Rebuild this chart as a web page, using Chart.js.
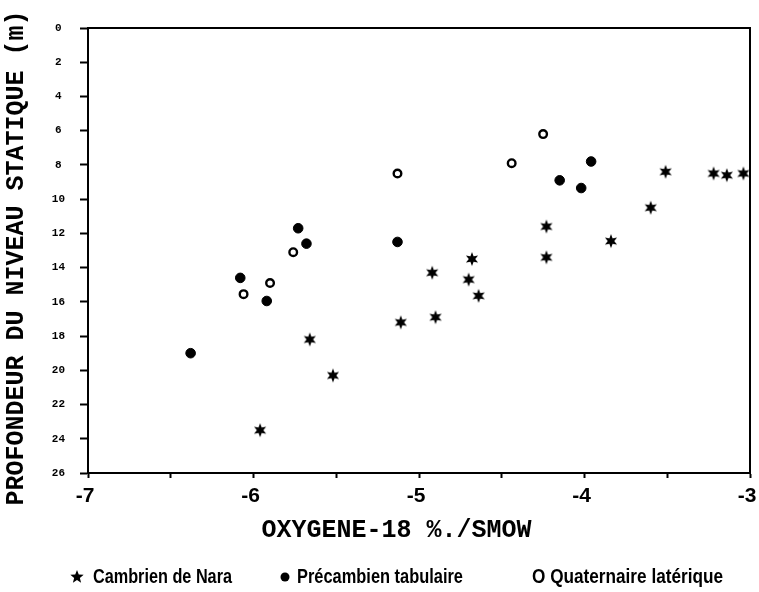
<!DOCTYPE html>
<html><head><meta charset="utf-8">
<script src="https://cdn.jsdelivr.net/npm/chart.js@4/dist/chart.umd.min.js"></script>
<style>html,body{margin:0;padding:0;background:#fff;}#wrap{width:759px;height:592px;position:relative;}</style>
</head><body><div id="wrap"><canvas id="c" width="759" height="592"></canvas></div>
<script>
// ---- data ----
const cambrienX = [-5.96,-5.66,-5.52,-5.11,-4.90,-4.92,-4.70,-4.68,-4.64,-4.23,-4.23,-3.84,-3.60,-3.51,-3.22,-3.14,-3.04];
const cambrienY = [23.5,18.2,20.3,17.2,16.9,14.3,14.7,13.5,15.65,11.6,13.4,12.45,10.5,8.4,8.5,8.6,8.5];
const precambX = [-6.38,-6.08,-5.92,-5.73,-5.68,-5.13,-4.15,-4.02,-3.96];
const precambY = [19.0,14.6,15.95,11.7,12.6,12.5,8.9,9.35,7.8];
const quatX = [-6.06,-5.90,-5.76,-5.13,-4.44,-4.25];
const quatY = [15.55,14.9,13.1,8.5,7.9,6.2];
const seriesNames = ['Cambrien de Nara','Précambien tabulaire','Quaternaire latérique'];
const xTicks = [-7,-6.5,-6,-5.5,-5,-4.5,-4,-3.5,-3];
const xTickLabels = ['-7','','-6','','-5','','-4','','-3'];
const yTicks = [0,2,4,6,8,10,12,14,16,18,20,22,24,26];
const yTickLabels = ['0','2','4','6','8','10','12','14','16','18','20','22','24','26'];
const xTitle = 'OXYGENE-18 %./SMOW';
const yTitle = 'PROFONDEUR DU NIVEAU STATIQUE (m)';

function pts(xs, ys){ return xs.map((x,i)=>({x:x, y:ys[i]})); }

function starCanvas(n, R, r){
  const s = Math.ceil(R*2)+2;
  const c = document.createElement('canvas'); c.width = s; c.height = s;
  const g = c.getContext('2d'); g.fillStyle = '#000'; g.beginPath();
  for (let i=0;i<2*n;i++){ const a = -Math.PI/2 + i*Math.PI/n; const rr = i%2 ? r : R;
    g.lineTo(s/2 + rr*Math.cos(a), s/2 + rr*Math.sin(a)); }
  g.closePath(); g.fill(); return c;
}
const plotStar = starCanvas(6, 7, 3.2);
const legendStar = starCanvas(5, 7, 3.0);

const legendFont = 'bold 20px "Liberation Sans Narrow", "Liberation Sans", Arial, sans-serif';
function fitText(ctx, txt, x, y, w){
  const m = ctx.measureText(txt).width;
  ctx.save(); ctx.translate(x, y); ctx.scale(w/m, 1); ctx.fillText(txt, 0, 0); ctx.restore();
}

const framePlugin = {
  id: 'frame',
  afterDraw(chart){
    const {ctx, chartArea:a} = chart;
    ctx.save();
    ctx.strokeStyle = '#000'; ctx.lineWidth = 2;
    ctx.beginPath(); ctx.moveTo(a.left, a.top); ctx.lineTo(a.right, a.top); ctx.lineTo(a.right, a.bottom); ctx.stroke();
    // legend
    const ly = 577;
    ctx.drawImage(legendStar, 77 - legendStar.width/2, ly - legendStar.height/2);
    ctx.fillStyle = '#000';
    ctx.beginPath(); ctx.arc(285, ly, 4.5, 0, Math.PI*2); ctx.fill();
    ctx.font = legendFont; ctx.textBaseline = 'middle'; ctx.textAlign = 'left';
    fitText(ctx, seriesNames[0], 93, ly, 139);
    fitText(ctx, seriesNames[1], 297, ly, 166);
    fitText(ctx, 'O ' + seriesNames[2], 532, ly, 191);
    ctx.restore();
  }
};

new Chart(document.getElementById('c'), {
  type: 'scatter',
  data: { datasets: [
    { label: seriesNames[0], data: pts(cambrienX, cambrienY), pointStyle: plotStar, pointRadius: 7 },
    { label: seriesNames[1], data: pts(precambX, precambY), pointStyle: 'circle', pointRadius: 4.8, backgroundColor: '#000', borderColor: '#000', borderWidth: 1 },
    { label: seriesNames[2], data: pts(quatX, quatY), pointStyle: 'circle', pointRadius: 3.8, backgroundColor: '#fff', borderColor: '#000', borderWidth: 2.4 }
  ]},
  options: {
    responsive: false, animation: false, devicePixelRatio: 1,
    events: [],
    layout: { padding: { top: 28, right: 9, bottom: 44, left: 0 } },
    plugins: { legend: { display: false }, tooltip: { enabled: false } },
    scales: {
      x: {
        type: 'linear', min: -7, max: -3,
        afterBuildTicks: s => { s.ticks = xTicks.map(v => ({value: v})); },
        afterFit: s => { s.height = 75; s.paddingRight = 0; s.paddingLeft = 0; },
        grid: { display: true, drawOnChartArea: false, drawTicks: true, tickLength: 5, tickWidth: 2, tickColor: '#000' },
        border: { display: true, color: '#000', width: 2 },
        ticks: { color: '#000', font: { family: '"Liberation Sans", Arial, sans-serif', size: 21, weight: 'bold' }, padding: 6, labelOffset: -3, maxRotation: 0, autoSkip: false,
          callback: (v, i) => xTickLabels[i] },
        title: { display: true, text: xTitle + '   ', color: '#000', font: { family: '"Liberation Mono", "Courier New", monospace', size: 25, weight: 'bold' }, padding: { top: 4, bottom: 2 } }
      },
      y: {
        type: 'linear', min: 0, max: 26, reverse: true,
        afterBuildTicks: s => { s.ticks = yTicks.map(v => ({value: v})); },
        afterFit: s => { s.width = 88; },
        grid: { display: true, drawOnChartArea: false, drawTicks: true, tickLength: 8, tickWidth: 2, tickColor: '#000' },
        border: { display: true, color: '#000', width: 2 },
        ticks: { color: '#000', font: { family: '"Liberation Mono", "Courier New", monospace', size: 11, weight: 'bold' }, padding: 15, crossAlign: 'center', autoSkip: false,
          callback: (v, i) => yTickLabels[i] },
        title: { display: true, text: yTitle + ' ', color: '#000', font: { family: '"Liberation Mono", "Courier New", monospace', size: 25, weight: 'bold' }, padding: { top: 2, bottom: 0 } }
      }
    }
  },
  plugins: [framePlugin]
});
</script></body></html>
